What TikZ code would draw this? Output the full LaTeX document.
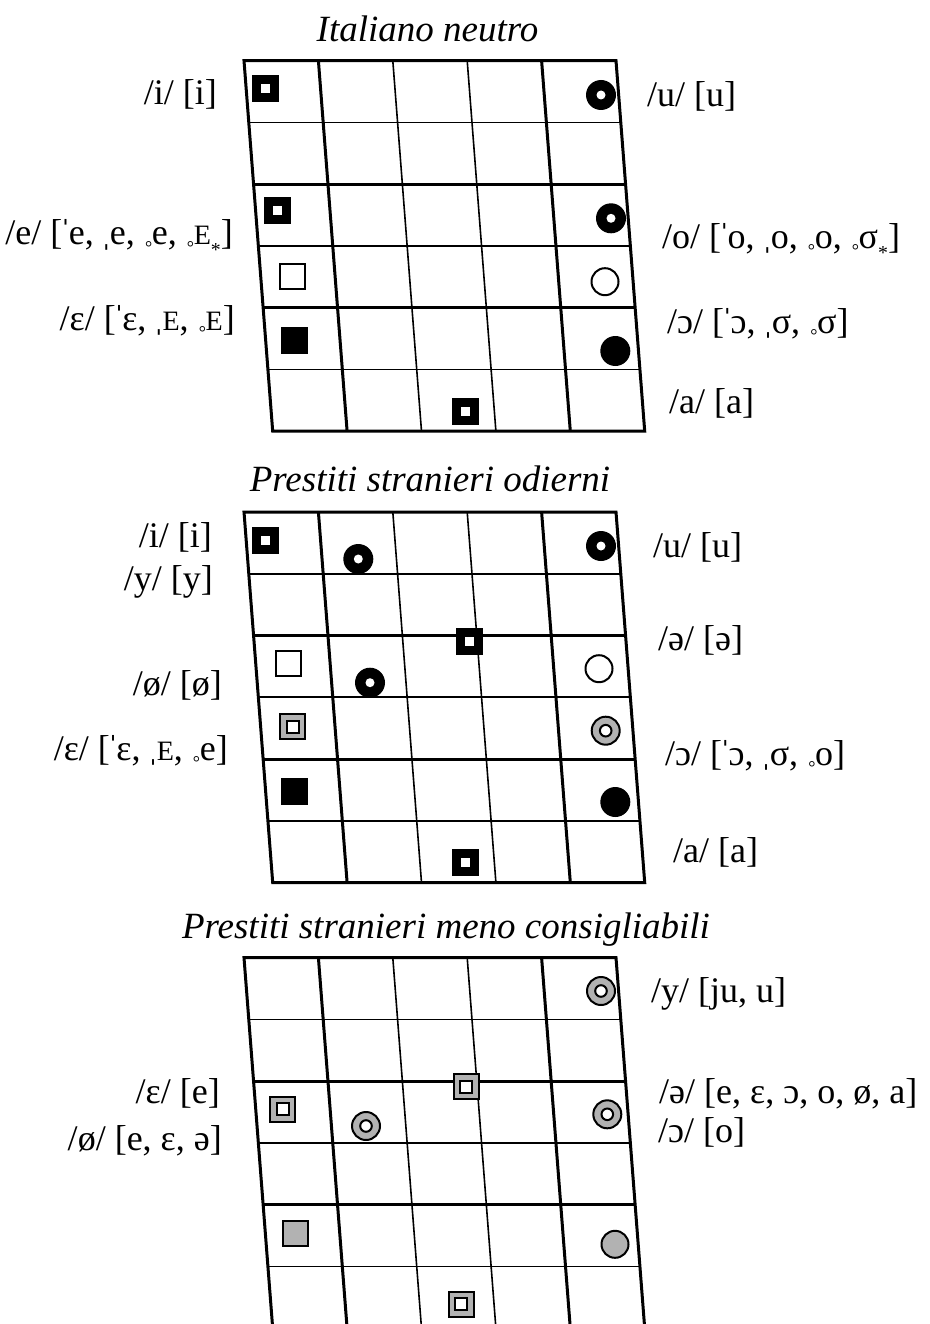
\documentclass[tikz,border=0pt]{standalone}
\usepackage{fontspec}
\setmainfont{Liberation Serif}
\usepackage{graphicx}
\definecolor{gfill}{RGB}{178,178,178}
\newcommand\rng{\kern0.03em\raisebox{-0.24em}{\scalebox{0.5}{°}}\kern-0.01em}
\newcommand\sce{\scalebox{0.78}{E}}
\newcommand\subast{\raisebox{-0.33em}{\scalebox{0.55}{*}}}
\newcommand\pst{\makebox[0.18em][c]{ˈ}}
\newcommand\sst{\makebox[0.2em][c]{\raisebox{0.08em}{ˌ}}}
\newcommand\drawgrid[1]{%
  \foreach \k/\w in {1/1.6,2/3,3/1.6,4/3,5/1.6}
    \draw[line width=\w pt] ({244+\k*4.783},{#1+\k*61.75}) -- ({616+\k*4.783},{#1+\k*61.75});
  \foreach \j/\w in {1/3,2/1.6,3/1.6,4/3}
    \draw[line width=\w pt] ({244+\j*74.4},#1) -- ({272.7+\j*74.4},{#1+370.5});
  \draw[line width=3pt] (244,#1) -- (616,#1) -- (644.7,{#1+370.5}) -- (272.7,{#1+370.5}) -- cycle;
}
\tikzset{
  lab/.style={inner sep=0pt, font=\fontsize{36}{40}\selectfont},
  ttl/.style={inner sep=0pt, anchor=base, font=\fontsize{37}{40}\selectfont\itshape},
  bsq/.pic={\fill[black] (-13.5,-13.5) rectangle (13.5,13.5); \fill[white] (-4.5,-4.5) rectangle (4.5,4.5);},
  bring/.pic={\fill[black] (0,0) circle (15); \fill[white] (0,0) circle (4.5);},
  osq/.pic={\draw[line width=2pt, fill=white] (-12.5,-12.5) rectangle (12.5,12.5);},
  ocirc/.pic={\draw[line width=2pt, fill=white] (0,0) circle (13.5);},
  fsq/.pic={\fill[black] (-13.5,-13.5) rectangle (13.5,13.5);},
  fcirc/.pic={\fill[black] (0,0) circle (15);},
  gdsq/.pic={\draw[line width=2pt, fill=gfill] (-12.5,-12.5) rectangle (12.5,12.5); \draw[line width=2pt, fill=white] (-6,-6) rectangle (6,6);},
  gring/.pic={\draw[line width=2pt, fill=gfill] (0,0) circle (14); \draw[line width=2pt, fill=white] (0,0) circle (5.8);},
  gsq/.pic={\draw[line width=2pt, fill=gfill] (-12.5,-12.5) rectangle (12.5,12.5);},
  gcirc/.pic={\draw[line width=2pt, fill=gfill] (0,0) circle (13.5);},
}
\begin{document}
\begin{tikzpicture}[x=1pt,y=-1pt]
\useasboundingbox (0,0) rectangle (929,1324);
\clip (0,0) rectangle (929,1324);
\fill[white] (0,0) rectangle (929,1324);

% ---------- titles
\node[ttl] (t1) at (427.5,41.7) {Italiano neutro};
\node[ttl] (t2) at (430,491) {Prestiti stranieri odierni};
\node[ttl] (t3) at (446,938) {Prestiti stranieri meno consigliabili};

% ---------- grids
\drawgrid{60.7}
\drawgrid{512}
\drawgrid{957.7}

% ---------- grid 1 symbols
\pic at (265.7,88.7) {bsq};
\pic at (601,95) {bring};
\pic at (277.7,210.7) {bsq};
\pic at (611,218.3) {bring};
\pic at (292.7,276) {osq};
\pic at (605,281.7) {ocirc};
\pic at (294,340.3) {fsq};
\pic at (615.3,351) {fcirc};
\pic at (465,411) {bsq};

% ---------- grid 2 symbols
\pic at (265.7,540) {bsq};
\pic at (358.3,559) {bring};
\pic at (601,546) {bring};
\pic at (469.3,641.7) {bsq};
\pic at (288.7,663.7) {osq};
\pic at (370,682.7) {bring};
\pic at (599,668.7) {ocirc};
\pic at (292.7,726.7) {gdsq};
\pic at (605.7,730.7) {gring};
\pic at (294,791.7) {fsq};
\pic at (615.3,802) {fcirc};
\pic at (465,862) {bsq};

% ---------- grid 3 symbols
\pic at (601,991) {gring};
\pic at (466.3,1086.7) {gdsq};
\pic at (282.7,1109.3) {gdsq};
\pic at (366,1126) {gring};
\pic at (607.3,1114.3) {gring};
\pic at (295.3,1233.3) {gsq};
\pic at (615,1244.3) {gcirc};
\pic at (461,1304) {gdsq};

% ---------- labels grid 1
\node[lab, anchor=base east] (l1a) at (217,105) {/i/ [i]};
\node[lab, anchor=base east] (l1b) at (233,245) {/e/ [\pst e, \sst e, \rng e, \rng\sce\subast]};
\node[lab, anchor=base east] (l1c) at (235,330) {/ɛ/ [\pst ɛ, \sst\sce, \rng\sce]};
\node[lab, anchor=base west] (r1a) at (647,107) {/u/ [u]};
\node[lab, anchor=base west] (r1b) at (662,248) {/o/ [\pst o, \sst o, \rng o, \rng σ\subast]};
\node[lab, anchor=base west] (r1c) at (667,333) {/ɔ/ [\pst ɔ, \sst σ, \rng σ]};
\node[lab, anchor=base west] (r1d) at (669,413) {/a/ [a]};

% ---------- labels grid 2
\node[lab, anchor=base east] (l2a) at (212,547) {/i/ [i]};
\node[lab, anchor=base east] (l2b) at (213,590) {/y/ [y]};
\node[lab, anchor=base east] (l2c) at (222,695) {/ø/ [ø]};
\node[lab, anchor=base east] (l2d) at (228,760) {/ɛ/ [\pst ɛ, \sst\sce, \rng e]};
\node[lab, anchor=base west] (r2a) at (653,557) {/u/ [u]};
\node[lab, anchor=base west] (r2b) at (658,650) {/ə/ [ə]};
\node[lab, anchor=base west] (r2c) at (665,765) {/ɔ/ [\pst ɔ, \sst σ, \rng o]};
\node[lab, anchor=base west] (r2d) at (673,862) {/a/ [a]};

% ---------- labels grid 3
\node[lab, anchor=base east] (l3a) at (220,1103) {/ɛ/ [e]};
\node[lab, anchor=base east] (l3b) at (222,1150) {/ø/ [e, ɛ, ə]};
\node[lab, anchor=base west] (r3a) at (651,1002) {/y/ [ju, u]};
\node[lab, anchor=base west] (r3b) at (659,1103) {/ə/ [e, ɛ, ɔ, o, ø, a]};
\node[lab, anchor=base west] (r3c) at (658,1142) {/ɔ/ [o]};
\end{tikzpicture}
\end{document}
